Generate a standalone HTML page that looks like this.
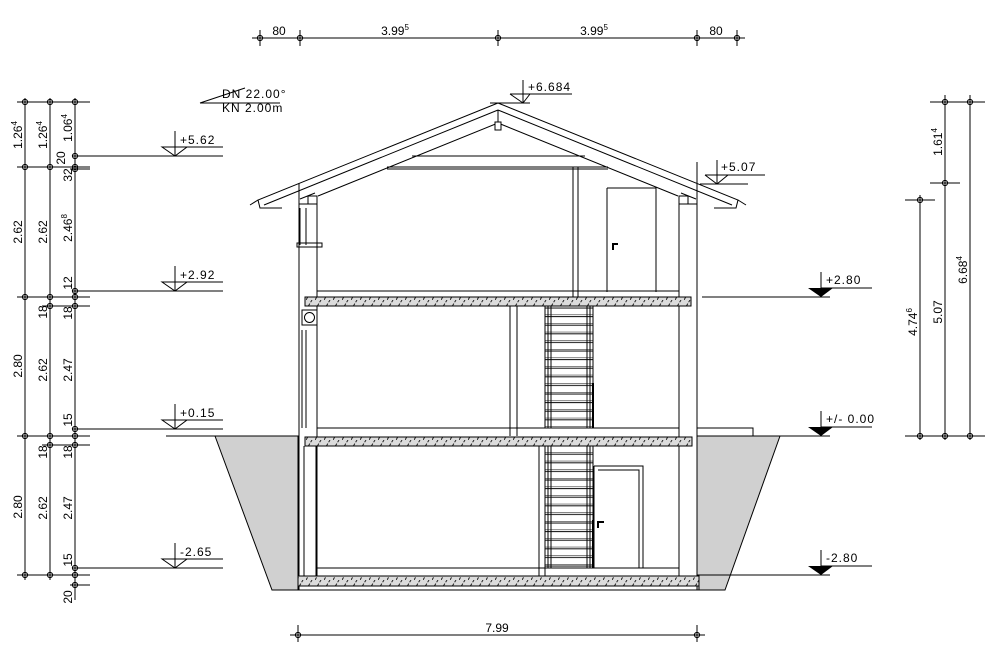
<!DOCTYPE html>
<html><head><meta charset="utf-8"><style>
html,body{margin:0;padding:0;background:#fff}
svg{display:block}
text{font-family:"Liberation Sans",sans-serif;font-size:12px;fill:#000}
</style></head><body>
<svg width="1000" height="653" viewBox="0 0 1000 653" xmlns="http://www.w3.org/2000/svg">
<defs>
<pattern id="h" width="9" height="10" patternUnits="userSpaceOnUse">
<rect width="9" height="10" fill="#dcdcdc"/>
<path d="M0 10 L6 0" stroke="#222" stroke-width="1" stroke-dasharray="3 1.5"/>
</pattern>
<pattern id="st" x="545" y="306" width="48" height="8.6" patternUnits="userSpaceOnUse">
<rect width="48" height="8.6" fill="#fff"/>
<path d="M0 0H48M0 2H48" stroke="#000" stroke-width="1"/>
<path d="M3 0V8.6M6 0V8.6M42 0V8.6M45 0V8.6" stroke="#000" stroke-width="1"/>
</pattern>
<g id="tk"><circle r="2.6" fill="none" stroke="#000"/><path d="M-3 0H3M0 -3V3" stroke="#000"/></g>
</defs>
<g stroke="#000" stroke-width="1" fill="none">
<path d="M252 38H745M260 30V46M300 30V46M498 30V46M697 30V46M737 30V46"/>
<path d="M290 635H705M298 625V642M697 625V642"/>
<path d="M25 98V580M50 98V580M75 98V600"/>
<path d="M17 102H90M17 167H90M70 169H90M17 297H90M42 306H90M17 436H90M42 445H90M17 575H90M70 585H90M75 156H223M75 291H223M75 429H223M75 568H223M166 436H215"/>
<path d="M920 195V440M945 95V440M970 95V440M930 102H985M930 183H960M905 200H935M905 436H985"/>
<path d="M175 131V156M162 147L175 156L187 147ZM175 147H223"/>
<path d="M175 266V291M162 282L175 291L187 282ZM175 282H223"/>
<path d="M175 404V429M162 420L175 429L187 420ZM175 420H223"/>
<path d="M175 543V568M162 559L175 568L187 559ZM175 559H223"/>
<path d="M523 80V103M510 94L523 103L530 94M510 94H572M490 103H530"/>
<path d="M717 160V184M705 175L717 184L728 175M705 175H765M700 184H748"/>
<path d="M821 272V288M821 288H872M702 297H830"/>
<path d="M821 411V427M821 427H872M697 436H830"/>
<path d="M200 103L245 88M200 103H280"/>
</g>
<g fill="#000"><path d="M808 288H833L821 297Z"/><path d="M808 427H833L821 436Z"/></g>
<g>
<use href="#tk" x="260" y="38"/><use href="#tk" x="300" y="38"/><use href="#tk" x="498" y="38"/><use href="#tk" x="697" y="38"/><use href="#tk" x="737" y="38"/>
<use href="#tk" x="298" y="635"/><use href="#tk" x="697" y="635"/>
<use href="#tk" x="25" y="102"/><use href="#tk" x="50" y="102"/><use href="#tk" x="75" y="102"/>
<use href="#tk" x="75" y="156"/>
<use href="#tk" x="25" y="167"/><use href="#tk" x="50" y="167"/><use href="#tk" x="75" y="167"/><use href="#tk" x="75" y="169"/>
<use href="#tk" x="75" y="291"/>
<use href="#tk" x="25" y="297"/><use href="#tk" x="50" y="297"/><use href="#tk" x="75" y="297"/>
<use href="#tk" x="50" y="306"/><use href="#tk" x="75" y="306"/>
<use href="#tk" x="75" y="429"/>
<use href="#tk" x="25" y="436"/><use href="#tk" x="50" y="436"/><use href="#tk" x="75" y="436"/>
<use href="#tk" x="50" y="445"/><use href="#tk" x="75" y="445"/>
<use href="#tk" x="75" y="568"/>
<use href="#tk" x="25" y="575"/><use href="#tk" x="50" y="575"/><use href="#tk" x="75" y="575"/>
<use href="#tk" x="75" y="585"/>
<use href="#tk" x="945" y="102"/><use href="#tk" x="970" y="102"/><use href="#tk" x="945" y="183"/><use href="#tk" x="920" y="200"/>
<use href="#tk" x="920" y="436"/><use href="#tk" x="945" y="436"/><use href="#tk" x="970" y="436"/>
</g>
<path d="M215 436H298V590H272Z" fill="#d0d0d0" stroke="#000" stroke-width="1"/>
<path d="M697 436H780L725 590H697Z" fill="#d0d0d0" stroke="#000" stroke-width="1"/>
<g stroke="#000" stroke-width="1" fill="none">
<path d="M498 103L258 200L260 208L282 208M498 110L264 205M498 123L318 196M315 193L300 199"/>
<path d="M498 103L738 200L736 208L714 208M498 110L732 205M498 123L678 196M681 193L696 199"/>
<path d="M258 200L250 205M738 200L746 205"/>
<rect x="495" y="122" width="6" height="8" fill="#fff"/>
<path d="M498 110V122"/>
<rect x="308" y="196" width="9" height="8"/><rect x="679" y="196" width="9" height="8"/>
<path d="M412 156H585M387 167H608M387 169H608M573 167V297M578 167V297"/>
<path d="M607 188H656V292M607 188V292"/>
<path d="M299 183V590M317 196V576M697 162V590M679 196V576M299 204H317M679 204H697"/>
<path d="M317 291H679M317 428H679M317 568H679"/>
<path d="M300 208V245M306 208V245M297 243H322V247H297Z"/>
<rect x="302" y="310" width="15" height="15"/><circle cx="309.5" cy="317.5" r="5"/>
<path d="M302 330V428M306 330V428"/>
<path d="M510 306V436M517 306V436"/>
<path d="M304 446V576M316 446V576M539 446V576M545 446V576"/>
<path d="M697 428H753V436"/>
<path d="M594 466H643V568M594 466V568M598 470H639V568"/>
</g>
<g fill="#000"><rect x="612" y="243" width="2" height="7"/><rect x="612" y="243" width="6" height="2"/>
<rect x="597" y="521" width="2" height="7"/><rect x="597" y="521" width="7" height="2"/></g>
<rect x="545" y="306" width="48" height="122" fill="url(#st)" stroke="#000"/>
<rect x="545" y="446" width="48" height="122" fill="url(#st)" stroke="#000"/>
<path d="M593 383V428M593 520V568" stroke="#000" stroke-width="2"/>
<rect x="305" y="297" width="386" height="9" fill="url(#h)" stroke="#000"/>
<rect x="305" y="437" width="387" height="9" fill="url(#h)" stroke="#000"/>
<rect x="298" y="576" width="401" height="10" fill="url(#h)" stroke="#000"/>
<path d="M298 586V590H699V586" fill="none" stroke="#000"/>
<text x="279" y="35" text-anchor="middle">80</text>
<text x="395" y="35" text-anchor="middle">3.99<tspan font-size="8" dy="-5">5</tspan></text>
<text x="594" y="35" text-anchor="middle">3.99<tspan font-size="8" dy="-5">5</tspan></text>
<text x="716" y="35" text-anchor="middle">80</text>
<text x="497" y="632" text-anchor="middle">7.99</text>
<text x="222" y="98" font-size="11" letter-spacing="1">DN 22.00°</text>
<text x="222" y="112" font-size="11" letter-spacing="1">KN 2.00m</text>
<text x="180" y="144" font-size="11" letter-spacing="1">+5.62</text>
<text x="180" y="279" font-size="11" letter-spacing="1">+2.92</text>
<text x="180" y="417" font-size="11" letter-spacing="1">+0.15</text>
<text x="180" y="556" font-size="11" letter-spacing="1">-2.65</text>
<text x="528" y="91" font-size="11" letter-spacing="1">+6.684</text>
<text x="721" y="171" font-size="11" letter-spacing="1">+5.07</text>
<text x="826" y="284" font-size="11" letter-spacing="1">+2.80</text>
<text x="826" y="423" font-size="11" letter-spacing="1">+/- 0.00</text>
<text x="826" y="562" font-size="11" letter-spacing="1">-2.80</text>
<path d="M821 550V566M821 566H872M697 575H830" stroke="#000" fill="none"/>
<path d="M808 566H833L821 575Z" fill="#000"/>
<g text-anchor="middle">
<text transform="translate(22,135) rotate(-90)">1.26<tspan font-size="8" dy="-5">4</tspan></text>
<text transform="translate(22,232) rotate(-90)">2.62</text>
<text transform="translate(22,366) rotate(-90)">2.80</text>
<text transform="translate(22,507) rotate(-90)">2.80</text>
<text transform="translate(47,135) rotate(-90)">1.26<tspan font-size="8" dy="-5">4</tspan></text>
<text transform="translate(47,232) rotate(-90)">2.62</text>
<text transform="translate(47,312) rotate(-90)">18</text>
<text transform="translate(47,370) rotate(-90)">2.62</text>
<text transform="translate(47,452) rotate(-90)">18</text>
<text transform="translate(47,508) rotate(-90)">2.62</text>
<text transform="translate(72,128) rotate(-90)">1.06<tspan font-size="8" dy="-5">4</tspan></text>
<text transform="translate(65,158) rotate(-90)">20</text>
<text transform="translate(72,175) rotate(-90)">32</text>
<text transform="translate(72,228) rotate(-90)">2.46<tspan font-size="8" dy="-5">8</tspan></text>
<text transform="translate(72,283) rotate(-90)">12</text>
<text transform="translate(72,313) rotate(-90)">18</text>
<text transform="translate(72,370) rotate(-90)">2.47</text>
<text transform="translate(72,420) rotate(-90)">15</text>
<text transform="translate(72,452) rotate(-90)">18</text>
<text transform="translate(72,508) rotate(-90)">2.47</text>
<text transform="translate(72,560) rotate(-90)">15</text>
<text transform="translate(72,597) rotate(-90)">20</text>
<text transform="translate(942,142) rotate(-90)">1.61<tspan font-size="8" dy="-5">4</tspan></text>
<text transform="translate(917,322) rotate(-90)">4.74<tspan font-size="8" dy="-5">6</tspan></text>
<text transform="translate(942,312) rotate(-90)">5.07</text>
<text transform="translate(967,270) rotate(-90)">6.68<tspan font-size="8" dy="-5">4</tspan></text>
</g>
</svg>
</body></html>
